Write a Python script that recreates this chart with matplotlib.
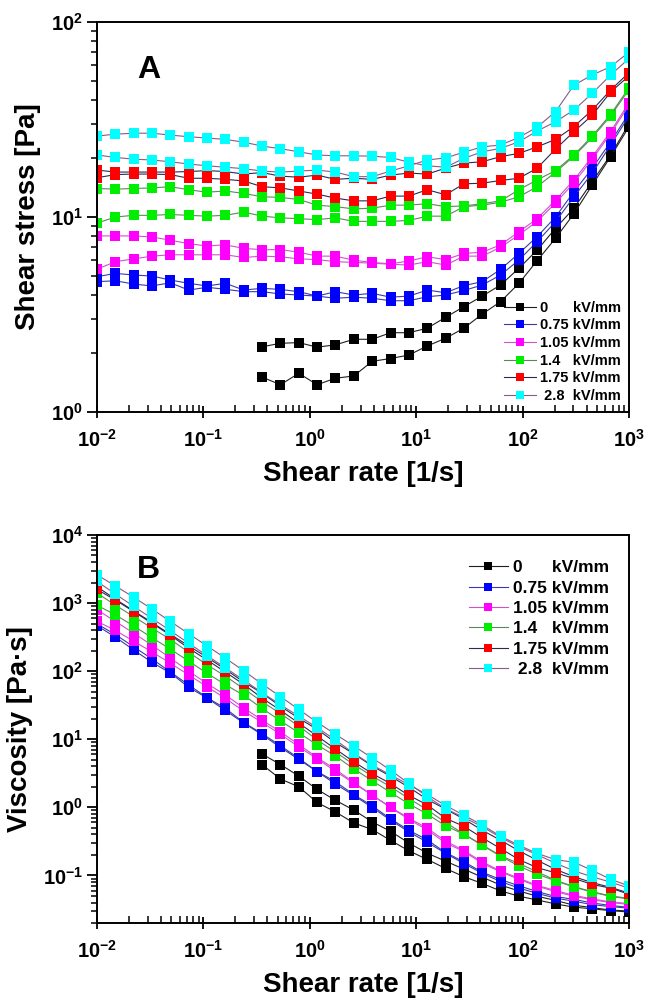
import numpy as np
import matplotlib
matplotlib.use("Agg")
import matplotlib.pyplot as plt
from matplotlib.ticker import LogLocator, NullFormatter

plt.rcParams['font.family'] = ['Liberation Sans', 'DejaVu Sans']
plt.rcParams['font.weight'] = 'bold'
plt.rcParams['mathtext.fontset'] = 'custom'
plt.rcParams['mathtext.rm'] = 'Liberation Sans:bold'
plt.rcParams['mathtext.it'] = 'Liberation Sans:bold'
plt.rcParams['mathtext.bf'] = 'Liberation Sans:bold'

# Shear rate points of the log ramp [1/s]
shear_rate = [0.01, 0.0149, 0.0221, 0.0329, 0.0489, 0.0728, 0.108, 0.161, 0.240, 0.356,
              0.530, 0.788, 1.17, 1.74, 2.59, 3.86, 5.74, 8.53, 12.7, 18.9,
              28.1, 41.8, 62.1, 92.4, 137, 204, 304, 452, 672, 1000]

field_labels = ["0      kV/mm", "0.75 kV/mm", "1.05 kV/mm", "1.4   kV/mm", "1.75 kV/mm", " 2.8  kV/mm"]

# Shear stress [Pa], two sweeps per field strength
stress_0_a = [np.nan] * 9 + [2.16, 2.25, 2.27, 2.15, 2.21, 2.36, 2.36, 2.55, 2.55, 2.69, 3.06,
                             3.47, 3.93, 4.48, 5.46, 6.77, 8.75, 11.1, 15.2, 20.8, 30.0]
stress_0_b = [np.nan] * 9 + [1.51, 1.38, 1.58, 1.38, 1.49, 1.53, 1.82, 1.88, 1.96, 2.18,
                             2.39, 2.69, 3.18, 3.68, 4.57, 5.97, 7.78, 10.4, 14.6, 20.4, 29.0]
stress_075_a = [4.94, 5.14, 5.04, 4.98, 4.75, 4.57, 4.43, 4.57, 4.22, 4.31, 4.25, 4.14, 3.93, 4.14, 3.98,
                4.06, 3.88, 3.93, 4.22, 4.09, 4.45, 4.66, 5.39, 6.51, 7.93, 10.0, 13.5, 17.8, 24.3, 34.0]
stress_075_b = [4.66, 4.71, 4.53, 4.43, 4.60, 4.22, 4.36, 4.26, 4.14, 4.14, 4.03, 3.98, 3.93, 3.83, 3.88,
                3.83, 3.72, 3.72, 3.90, 3.98, 4.20, 4.48, 5.04, 6.02, 7.47, 9.46, 12.7, 16.8, 23.4, 33.0]
stress_105_a = [8.0, 8.0, 8.0, 7.9, 7.6, 7.3, 7.1, 7.2, 6.9, 6.8, 6.8, 6.6, 6.3, 6.3, 6.0,
                5.85, 5.75, 5.95, 6.25, 6.05, 6.5, 6.6, 7.2, 8.4, 9.8, 12.2, 15.5, 20.4, 27.4, 38.6]
stress_105_b = [5.4, 5.9, 6.1, 6.3, 6.4, 6.4, 6.4, 6.4, 6.2, 6.3, 6.25, 6.1, 6.05, 5.9, 5.85,
                5.8, 5.72, 5.67, 5.9, 5.67, 6.3, 6.3, 7.0, 8.1, 9.5, 11.8, 15.0, 19.8, 26.8, 37.5]
stress_14_a = [14.0, 13.9, 14.0, 14.1, 14.3, 13.8, 13.4, 13.6, 13.2, 12.7, 12.6, 12.3, 11.5, 11.3, 11.0,
               11.1, 11.5, 11.5, 11.7, 11.3, 11.4, 11.7, 12.1, 13.8, 15.5, 17.3, 20.8, 26.0, 33.6, 46.0]
stress_14_b = [9.3, 10.0, 10.2, 10.2, 10.3, 10.2, 10.1, 10.2, 10.6, 10.1, 9.9, 9.8, 9.7, 9.9, 9.5,
               9.5, 9.5, 9.6, 10.1, 10.1, 11.3, 11.5, 11.9, 12.7, 14.3, 17.0, 20.5, 25.6, 33.0, 45.0]
stress_175_a = [17.4, 17.0, 17.0, 17.0, 17.0, 17.1, 17.3, 17.1, 16.6, 16.9, 16.2, 16.0, 16.4, 15.6, 15.8,
                15.6, 16.4, 16.8, 16.6, 17.8, 18.9, 19.2, 20.4, 21.2, 22.9, 25.0, 29.1, 35.4, 44.8, 55.0]
stress_175_b = [15.9, 16.5, 16.6, 16.6, 16.5, 15.8, 15.8, 15.6, 15.3, 14.3, 14.1, 13.6, 13.1, 12.5, 12.1,
                12.1, 12.8, 12.8, 13.8, 13.0, 14.8, 14.9, 15.4, 15.8, 17.8, 22.3, 27.4, 33.3, 43.7, 53.0]
stress_28_a = [26.0, 26.6, 26.9, 26.9, 26.3, 25.8, 25.4, 25.0, 24.2, 23.1, 22.4, 21.6, 20.8, 20.6, 20.6,
               20.5, 20.2, 19.1, 18.3, 18.0, 20.0, 21.6, 22.5, 24.3, 27.6, 30.8, 35.4, 43.1, 53.5, 65.0]
stress_28_b = [20.8, 20.2, 19.8, 19.6, 19.2, 18.7, 18.3, 18.0, 17.7, 17.2, 17.0, 17.2, 17.4, 17.0, 16.1,
               16.1, 17.2, 18.3, 19.6, 20.1, 21.5, 22.9, 23.4, 25.6, 28.9, 34.7, 47.5, 53.5, 59.0, 70.0]

sweeps = [
    (stress_0_a, stress_0_b),
    (stress_075_a, stress_075_b),
    (stress_105_a, stress_105_b),
    (stress_14_a, stress_14_b),
    (stress_175_a, stress_175_b),
    (stress_28_a, stress_28_b),
]

marker_colors = ["#000000", "#0000ff", "#ff00ff", "#00ee00", "#ff0000", "#00ffff"]
line_colors = ["#202020", "#3a3aa8", "#d050d0", "#5a8a5a", "#2a2a55", "#8a5a8a"]

rate = np.array(shear_rate)

fig = plt.figure(figsize=(6.45, 9.99), dpi=100)
axA = fig.add_axes([97 / 645, 1 - 412 / 999, 532 / 645, 390 / 999])
axB = fig.add_axes([97 / 645, 1 - 923 / 999, 532 / 645, 388 / 999])

for i, (up, down) in enumerate(sweeps):
    up = np.array(up, dtype=float)
    down = np.array(down, dtype=float)
    for j, s in enumerate([up, down]):
        kw = dict(color=line_colors[i], lw=0.8, marker='s', ms=6.5,
                  mfc=marker_colors[i], mec=marker_colors[i], mew=0,
                  label=field_labels[i] if j == 0 else None)
        axA.plot(rate, s, **kw)
        # viscosity = shear stress / shear rate
        axB.plot(rate, s / rate, **kw)

for ax in (axA, axB):
    ax.set_xscale('log')
    ax.set_yscale('log')
    ax.set_xlim(0.01, 1000)
    for sp in ax.spines.values():
        sp.set_linewidth(1.4)
    ax.xaxis.set_major_locator(LogLocator(base=10, numticks=20))
    ax.xaxis.set_minor_locator(LogLocator(base=10, subs=np.arange(2, 10), numticks=20))
    ax.yaxis.set_major_locator(LogLocator(base=10, numticks=20))
    ax.yaxis.set_minor_locator(LogLocator(base=10, subs=np.arange(2, 10), numticks=20))
    ax.xaxis.set_minor_formatter(NullFormatter())
    ax.yaxis.set_minor_formatter(NullFormatter())
    ax.tick_params(axis='x', which='major', direction='inout', length=9, width=1.3, labelsize=14.5, pad=8)
    ax.tick_params(axis='x', which='minor', direction='in', length=5, width=1.1)
    ax.tick_params(axis='y', which='major', direction='out', length=7, width=1.3, labelsize=14.5, pad=3)
    ax.tick_params(axis='y', which='minor', direction='out', length=4, width=1.1)
    ax.set_xlabel("Shear rate [1/s]", fontsize=20, fontweight='bold', labelpad=7)

axA.set_ylim(1, 100)
axB.set_ylim(0.02, 1e4)
axA.set_ylabel("Shear stress [Pa]", fontsize=20, fontweight='bold', labelpad=7)
axB.set_ylabel("Viscosity [Pa\u00b7s]", fontsize=20, fontweight='bold', labelpad=7)

axA.text(0.098, 0.877, "A", transform=axA.transAxes, fontsize=23, fontweight='bold', ha='center', va='center')
axB.text(0.096, 0.91, "B", transform=axB.transAxes, fontsize=23, fontweight='bold', ha='center', va='center')

legA = axA.legend(loc='upper left', bbox_to_anchor=(0.765, 0.285), frameon=False, fontsize=10.5,
                  numpoints=1, handlelength=2.2, handletextpad=0.3, labelspacing=0.25,
                  borderpad=0, borderaxespad=0, markerscale=0.9)
legB = axB.legend(loc='upper left', bbox_to_anchor=(0.70, 0.935), frameon=False, fontsize=12.5,
                  numpoints=1, handlelength=2.2, handletextpad=0.3, labelspacing=0.3,
                  borderpad=0, borderaxespad=0, markerscale=0.8)

fig.savefig("out.png", dpi=100)
